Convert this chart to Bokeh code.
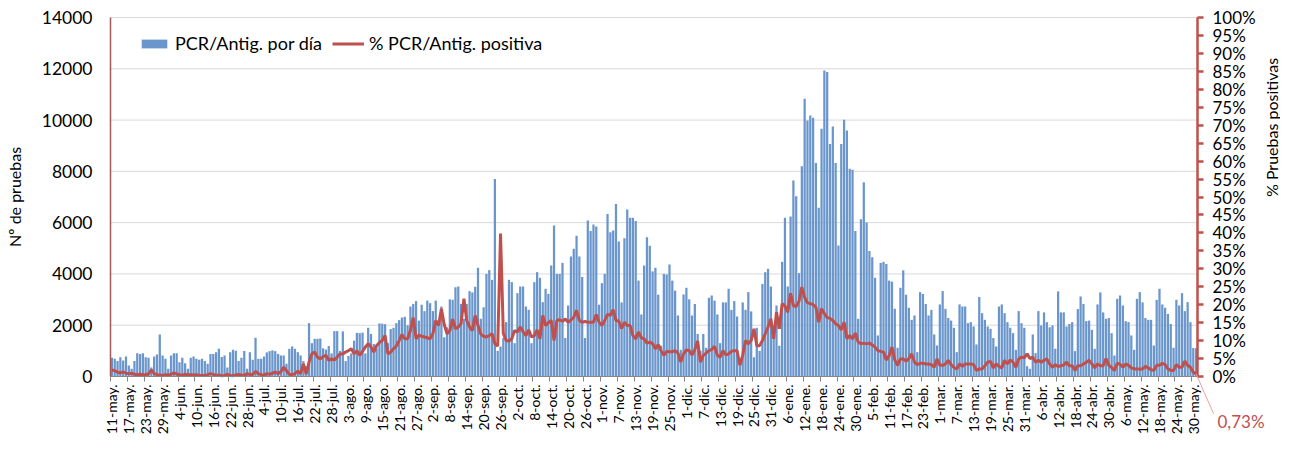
import math
from bokeh.plotting import figure
from bokeh.models import (Range1d, LinearAxis, FixedTicker, Legend, LegendItem,
                          Label, Arrow)
from bokeh.embed import file_html
from bokeh.resources import INLINE

# ---------------- data (daily, 11-may-2020 .. 31-may-2021) ----------------
tests_may_jun = [730, 690, 600, 750, 620, 780, 430, 300, 600, 910, 880, 910, 750, 730, 350, 780,
                 860, 1640, 820, 690, 300, 820, 910, 910, 560, 730, 520, 300, 730, 780, 690, 650, 690]
tests_jun_jul = [600, 500, 880, 880, 950, 1080, 760, 820, 350, 950, 1040, 1000, 600, 730, 990, 300,
                 950, 650, 1510, 690, 690, 780, 940, 990, 1020, 990, 880, 820, 820, 500, 1080, 1170,
                 1080, 950, 820, 600]
tests_jul_ago = [400, 2080, 1300, 1470, 1470, 1480, 1100, 1050, 1190, 900, 1770, 1770, 1000, 1760,
                 600, 800, 900, 1400, 1700, 1690, 1710, 900, 1900, 1660, 1270, 1100, 2070, 2060, 2040,
                 1300, 1850, 1900, 2080, 2200, 2300, 2330]
tests_ago_sep = [2000, 2730, 2830, 2940, 2180, 2800, 2550, 2960, 2860, 2550, 2960, 2050, 2730, 1530,
                 1920, 3010, 2990, 3480, 3510, 2830, 2250, 2830, 3330, 3280, 3500, 4240, 2250, 2700,
                 4000, 4150, 3770, 7700, 1000, 1170, 1500]
tests_sep_oct = [2120, 3770, 3680, 1300, 3250, 3510, 3510, 2730, 2600, 1300, 3680, 4070, 3850, 2900,
                 3420, 3220, 4330, 5890, 4000, 4000, 4430, 1500, 2770, 4680, 4980, 5490, 4680, 3880,
                 1500, 6080, 5670, 5930, 5850, 2800, 3640, 4000]
tests_nov = [6340, 5630, 5690, 6730, 5260, 2890, 5390, 6510, 6190, 6190, 6060, 3740, 2420, 4330, 5430,
             5100, 4100, 4240, 3190, 1200, 4000, 3980, 4370, 3740, 3350, 2380, 1040, 3200, 3460, 3010,
             2380, 2830, 1660, 1000, 1660]
tests_dic = [1120, 3070, 3160, 2960, 2420, 1300, 2890, 2890, 3420, 2600, 2940, 2340, 430, 2890, 2600,
             3290, 2540, 750, 1900, 1000, 3610, 4070, 4200, 3510, 1470, 2770, 1200, 4470, 6190, 3510,
             6240, 7640, 7030, 4030, 8200]
tests_ene_feb = [10830, 9980, 10180, 10090, 8330, 6580, 9660, 11930, 11870, 9070, 9750, 8330, 5110,
                 9070, 10010, 9590, 8100, 8060, 5670, 2250, 6130, 7580, 6010, 4890, 4650, 3850, 1600,
                 4430, 4470, 4390, 3740, 3700, 2640, 1120, 3460, 4140]
tests_feb_mar = [3190, 2680, 2210, 2380, 950, 3290, 3220, 2830, 2380, 2600, 1640, 1210, 2810, 3330,
                 2640, 2280, 2180, 1900, 950, 2810, 2730, 2730, 2080, 2120, 1950, 1250, 3100, 2470,
                 2210, 1950, 1860, 1500, 1170, 2730, 2810]
tests_mar_abr = [2470, 2120, 1900, 1690, 1040, 2550, 2080, 1900, 400, 300, 1640, 910, 2550, 1990, 2500,
                 2120, 1920, 1990, 1080, 3320, 2500, 2500, 1950, 2050, 2120, 990, 2630, 3120, 2830,
                 2160, 2180, 1820, 1080, 2810, 3280, 2500]
tests_may21 = [2250, 2280, 1690, 820, 3030, 3160, 2770, 2160, 2120, 1600, 1040, 3030, 3290, 2890, 2280,
               2210, 2210, 1210, 2990, 3420, 2810, 2680, 2440, 2050, 1120, 2990, 2770, 3250, 2550,
               2900, 2120, 1110, 1100]

pct_may_jun = [1.8, 1.6, 1.2, 1.0, 1.3, 0.9, 0.8, 0.9, 0.6, 0.5, 0.6, 0.5, 0.5, 0.7, 1.8, 0.8, 0.5,
               0.4, 0.3, 0.5, 0.4, 0.6, 1.0, 0.7, 0.5, 0.4, 0.6, 0.5, 0.5, 0.4, 0.5, 0.3, 0.3]
pct_jun_jul = [0.3, 0.5, 0.8, 0.6, 0.3, 0.4, 0.2, 0.3, 0.6, 0.3, 0.2, 0.4, 0.6, 0.4, 0.3, 0.8, 0.5,
               0.6, 1.4, 0.8, 0.5, 0.4, 0.8, 0.6, 0.9, 1.2, 0.8, 1.3, 2.6, 1.6, 0.6, 0.5, 0.8, 1.5,
               0.8, 3.5]
pct_jul_ago = [0.7, 4.0, 6.3, 6.8, 5.4, 4.9, 5.5, 5.9, 4.5, 4.9, 4.6, 5.4, 6.3, 6.3, 6.8, 7.2, 7.7,
               6.3, 7.2, 5.9, 7.0, 8.2, 9.1, 8.2, 6.8, 8.6, 9.5, 10.0, 11.4, 6.3, 6.8, 7.7, 8.5, 10.0,
               11.7, 10.5]
pct_ago_sep = [10.5, 12.8, 16.4, 10.5, 11.5, 11.2, 11.0, 10.8, 10.5, 12.0, 15.6, 14.2, 18.9, 14.5,
               11.9, 12.8, 16.0, 13.3, 13.8, 14.8, 21.7, 15.6, 13.8, 12.8, 17.0, 14.2, 11.8, 11.2,
               11.0, 11.4, 11.9, 9.1, 8.5, 39.8, 12.0]
pct_sep_oct = [10.0, 9.9, 10.5, 12.8, 12.4, 13.8, 12.5, 11.4, 13.0, 11.0, 11.4, 13.0, 10.5, 17.0,
               14.2, 15.0, 15.6, 10.0, 15.6, 15.8, 15.4, 16.0, 15.1, 15.8, 16.5, 18.4, 15.6, 15.1,
               15.3, 15.1, 15.1, 15.1, 17.3, 15.1, 14.2, 15.6]
pct_nov = [17.3, 17.0, 18.6, 15.6, 15.4, 13.4, 15.1, 14.2, 14.2, 11.4, 10.5, 12.4, 10.8, 10.5, 9.3,
           9.6, 9.1, 7.7, 8.9, 7.2, 5.9, 7.0, 6.9, 6.9, 7.2, 6.5, 4.0, 6.3, 7.4, 7.2, 6.0, 7.5, 9.9,
           4.0, 5.9]
pct_dic = [6.5, 7.2, 7.5, 8.4, 5.9, 5.4, 7.2, 6.0, 6.3, 7.0, 7.2, 7.2, 3.1, 5.9, 10.0, 9.1, 10.0,
           13.3, 8.6, 8.6, 10.0, 11.9, 13.8, 16.1, 10.5, 17.9, 13.3, 20.3, 19.7, 17.9, 23.2, 19.7,
           19.5, 21.0, 24.9]
pct_ene_feb = [22.0, 20.5, 20.3, 20.0, 19.3, 15.1, 18.9, 17.5, 16.4, 16.2, 15.6, 14.7, 14.2, 13.0,
               15.1, 10.5, 11.4, 10.5, 12.1, 9.6, 9.1, 9.3, 9.1, 9.3, 8.8, 8.2, 7.2, 7.0, 6.8, 4.6,
               5.8, 8.2, 4.6, 3.1, 4.9, 4.9]
pct_feb_mar = [4.3, 5.0, 6.3, 4.0, 3.3, 3.7, 3.7, 3.5, 3.5, 3.3, 2.6, 4.9, 3.1, 3.1, 3.5, 4.5, 3.3,
               2.5, 2.1, 3.5, 2.8, 3.5, 3.5, 3.5, 3.3, 1.7, 2.1, 2.1, 3.0, 4.0, 4.2, 2.4, 3.5, 2.8, 2.4]
pct_mar_abr = [4.5, 3.5, 4.6, 4.0, 2.6, 4.9, 5.4, 5.2, 6.3, 5.0, 5.4, 4.0, 4.5, 4.0, 4.5, 4.9, 3.5,
               2.6, 3.3, 2.8, 3.0, 3.2, 4.0, 3.0, 3.0, 1.7, 3.0, 3.0, 3.5, 4.0, 4.5, 3.5, 2.4, 3.5,
               3.0, 3.0]
pct_may21 = [5.0, 3.1, 2.5, 1.7, 3.7, 3.4, 2.6, 3.5, 3.1, 2.4, 2.1, 2.1, 2.1, 2.1, 2.8, 2.4, 1.9, 1.7,
             3.1, 3.1, 3.7, 3.3, 2.1, 1.7, 1.7, 3.3, 2.6, 2.6, 4.3, 3.1, 2.6, 1.2, 0.73]

tick_labels = ["11-may.", "17-may.", "23-may.", "29-may.", "4-jun.", "10-jun.", "16-jun.", "22-jun.",
               "28-jun.", "4-jul.", "10-jul.", "16-jul.", "22-jul.", "28-jul.", "3-ago.", "9-ago.",
               "15-ago.", "21-ago.", "27-ago.", "2-sep.", "8-sep.", "14-sep.", "20-sep.", "26-sep.",
               "2-oct.", "8-oct.", "14-oct.", "20-oct.", "26-oct.", "1-nov.", "7-nov.", "13-nov.",
               "19-nov.", "25-nov.", "1-dic.", "7-dic.", "13-dic.", "19-dic.", "25-dic.", "31-dic.",
               "6-ene.", "12-ene.", "18-ene.", "24-ene.", "30-ene.", "5-feb.", "11-feb.", "17-feb.",
               "23-feb.", "1-mar.", "7-mar.", "13-mar.", "19-mar.", "25-mar.", "31-mar.", "6-abr.",
               "12-abr.", "18-abr.", "24-abr.", "30-abr.", "6-may.", "12-may.", "18-may.", "24-may.",
               "30-may."]
last_label = "0,73%"
y_max = 14000
pct_max = 100

tests = (tests_may_jun + tests_jun_jul + tests_jul_ago + tests_ago_sep + tests_sep_oct + tests_nov +
         tests_dic + tests_ene_feb + tests_feb_mar + tests_mar_abr + tests_may21)
pct = (pct_may_jun + pct_jun_jul + pct_jul_ago + pct_ago_sep + pct_sep_oct + pct_nov + pct_dic +
       pct_ene_feb + pct_feb_mar + pct_mar_abr + pct_may21)
n = len(tests)
days = list(range(n))

FONT = "Lato"
BLUE = "#6A96CC"
RED = "#C0504D"

# canvas geometry: the whole canvas is the frame; axes are placed at fixed locations
W, H = 1280, 434
PL, PT, PW, PH = 110, 17, 1087, 359          # data area inside the canvas
dx = PW / n                                  # px per day
dy = PH / y_max                              # px per test
x0 = -0.5 - PL / dx
x1 = -0.5 + (W - PL) / dx
ytop = y_max + PT / dy
ybot = -(H - PT - PH) / dy
k = y_max / pct_max

p = figure(frame_width=W, frame_height=H, min_border=0, output_backend="svg",
           toolbar_location=None, x_range=Range1d(x0, x1), y_range=Range1d(ybot, ytop))
p.extra_y_ranges = {"pct": Range1d(ybot / k, ytop / k)}
p.outline_line_color = None
p.background_fill_color = "white"
p.border_fill_color = "white"
p.xgrid.visible = False
p.ygrid.visible = False

grid_vals = list(range(2000, y_max + 1, 2000))
p.segment(x0=[-0.5] * len(grid_vals), x1=[n - 0.5] * len(grid_vals), y0=grid_vals, y1=grid_vals,
          line_color="#D9D9D9", line_width=1, level="underlay")

bars = p.vbar(x=days, top=tests, width=0.8, fill_color=BLUE, line_color=None)
line = p.line(x=days, y=pct, y_range_name="pct", line_color=RED, line_width=3)

# x axis
lab_pos = list(range(0, n, 6))[:len(tick_labels)]
xax = p.xaxis[0]
xax.fixed_location = 0
xax.bounds = (-0.5, n - 0.5)
xax.ticker = FixedTicker(ticks=lab_pos, minor_ticks=[i - 0.5 for i in range(0, n + 1, 6)])
xax.major_label_overrides = {pos: lab for pos, lab in zip(lab_pos, tick_labels)}
xax.major_label_orientation = math.pi / 2
xax.major_tick_line_color = None
xax.major_tick_out = 0
xax.major_tick_in = 0
xax.minor_tick_line_color = "#868686"
xax.minor_tick_out = 5
xax.minor_tick_in = 0
xax.axis_line_color = "#868686"
xax.major_label_standoff = 3
xax.major_label_text_font = FONT
xax.major_label_text_font_size = "14px"
xax.major_label_text_color = "black"

# left axis
yax = p.yaxis[0]
yax.fixed_location = -0.5
yax.bounds = (0, y_max)
yax.ticker = FixedTicker(ticks=list(range(0, y_max + 1, 2000)))
yax.major_tick_line_color = None
yax.major_tick_out = 0
yax.major_tick_in = 0
yax.minor_tick_line_color = None
yax.axis_line_color = "#A05A5A"
yax.axis_line_width = 1.5
yax.major_label_standoff = 18
yax.major_label_text_font = FONT
yax.major_label_text_font_size = "17.5px"
yax.major_label_text_color = "black"
yax.axis_label = "Nº de pruebas"
yax.axis_label_text_font = FONT
yax.axis_label_text_font_size = "16px"
yax.axis_label_text_font_style = "normal"
yax.axis_label_text_color = "black"
yax.axis_label_standoff = 15

# right axis
rax = LinearAxis(y_range_name="pct", ticker=FixedTicker(ticks=list(range(0, pct_max + 1, 5))))
rax.fixed_location = n - 0.5
rax.bounds = (0, pct_max)
rax.major_label_overrides = {v: f"{v}%" for v in range(0, pct_max + 1, 5)}
rax.axis_line_color = RED
rax.axis_line_width = 2.5
rax.major_tick_line_color = RED
rax.major_tick_line_width = 2.5
rax.major_tick_out = 6
rax.major_tick_in = 0
rax.minor_tick_line_color = None
rax.major_label_standoff = 9
rax.major_label_text_font = FONT
rax.major_label_text_font_size = "17px"
rax.major_label_text_color = "black"
rax.axis_label = "% Pruebas positivas"
rax.axis_label_text_font = FONT
rax.axis_label_text_font_size = "16px"
rax.axis_label_text_font_style = "normal"
rax.axis_label_text_color = "black"
rax.axis_label_standoff = 13
rax.axis_label_orientation = math.pi / 2
p.add_layout(rax, "right")

# legend
legend = Legend(items=[LegendItem(label="PCR/Antig. por día", renderers=[bars]),
                       LegendItem(label="% PCR/Antig. positiva", renderers=[line])],
                orientation="horizontal", location=(PL + 28, H - PT - 37))
legend.border_line_color = None
legend.background_fill_alpha = 0
legend.label_text_font = FONT
legend.label_text_font_size = "18px"
legend.label_text_color = "black"
legend.glyph_width = 32
legend.glyph_height = 11
legend.label_standoff = 5
legend.spacing = 10
legend.padding = 0
legend.margin = 0
p.add_layout(legend)

# last value annotation
p.add_layout(Arrow(end=None, x_start=n - 1, y_start=pct[-1] * k, x_end=n + 5.2, y_end=-1450,
                   line_color="#E6A3A1", line_width=1))
p.add_layout(Label(x=n + 6.6, y=-1760, text=last_label, text_color=RED, text_font=FONT,
                   text_font_size="17px", text_baseline="middle", text_align="left"))

open("out.html", "w").write(file_html(p, INLINE))
